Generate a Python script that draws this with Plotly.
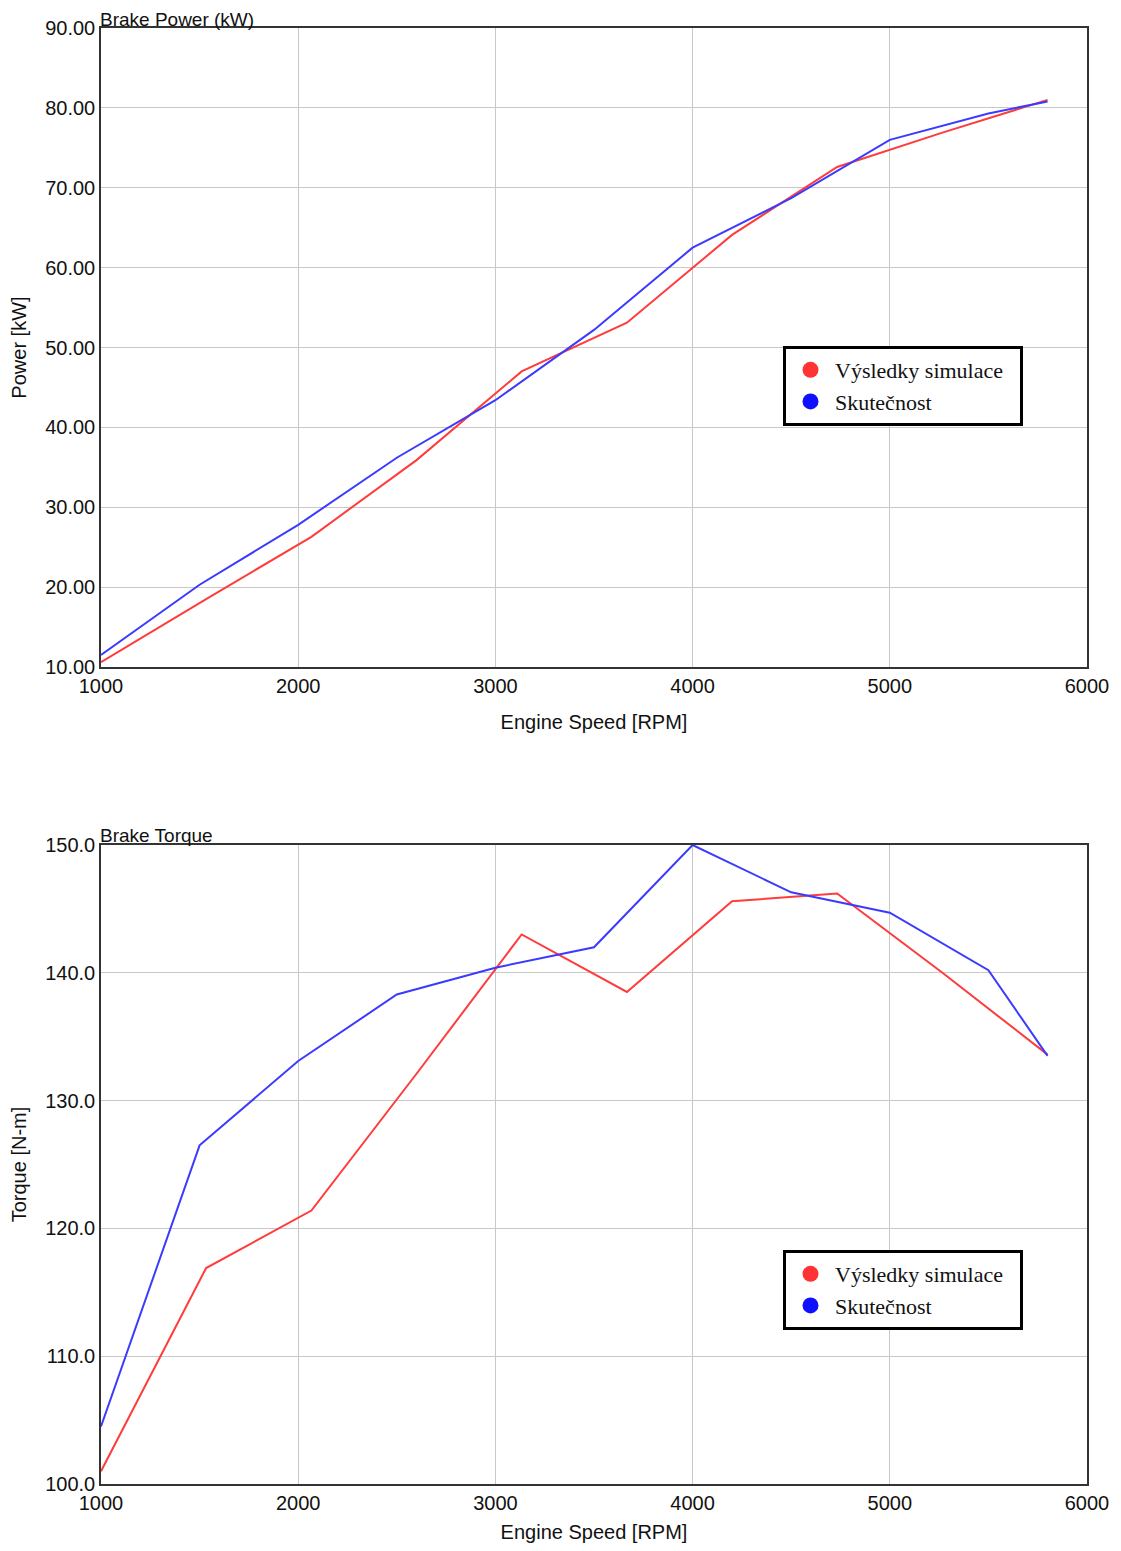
import plotly.graph_objects as go

# ---- data ----
rpm_sim = [1000, 1533, 2067, 2600, 3133, 3667, 4200, 4733, 5267, 5800]
power_sim = [10.6, 18.5, 26.3, 35.9, 47.0, 53.1, 64.1, 72.6, 76.9, 81.0]
torque_sim = [101.0, 116.9, 121.4, 132.1, 143.0, 138.5, 145.6, 146.2, 140.0, 133.6]

rpm_real = [1000, 1500, 2000, 2500, 3000, 3500, 4000, 4500, 5000, 5500, 5800]
power_real = [11.5, 20.3, 27.8, 36.2, 43.4, 52.2, 62.5, 68.7, 76.0, 79.3, 80.8]
torque_real = [104.5, 126.5, 133.1, 138.3, 140.4, 142.0, 150.0, 146.3, 144.7, 140.2, 133.5]

x_ticks = [1000, 2000, 3000, 4000, 5000, 6000]
series_names = ["Výsledky simulace", "Skutečnost"]
line_colors = ["#ff3b3b", "#3b3bff"]
marker_colors = ["#ff3333", "#1010ff"]

# page body has an 8px default margin: compensate
OFF = 8
W, H = 1105, 1535
fig = go.Figure()

def px_x(p):
    return (p - OFF) / W

def px_y(p):
    return 1 - (p - OFF) / H

xdom = [px_x(101), px_x(1087)]
dom_top = [px_y(667), px_y(28)]
dom_bot = [px_y(1484), px_y(845)]

# top: power
fig.add_trace(go.Scatter(x=rpm_sim, y=power_sim, mode="lines", line=dict(color=line_colors[0], width=2),
                         xaxis="x", yaxis="y", showlegend=False))
fig.add_trace(go.Scatter(x=rpm_real, y=power_real, mode="lines", line=dict(color=line_colors[1], width=2),
                         xaxis="x", yaxis="y", showlegend=False))
# bottom: torque
fig.add_trace(go.Scatter(x=rpm_sim, y=torque_sim, mode="lines", line=dict(color=line_colors[0], width=2),
                         xaxis="x2", yaxis="y2", showlegend=False))
fig.add_trace(go.Scatter(x=rpm_real, y=torque_real, mode="lines", line=dict(color=line_colors[1], width=2),
                         xaxis="x2", yaxis="y2", showlegend=False))

# legend entries (circle markers)
for lg, xa, ya in [("legend", "x", "y"), ("legend2", "x2", "y2")]:
    for name, c in zip(series_names, marker_colors):
        fig.add_trace(go.Scatter(x=[None], y=[None], mode="markers", name=name + "  ",
                                 marker=dict(color=c, size=16, symbol="circle"),
                                 xaxis=xa, yaxis=ya, legend=lg, showlegend=True))

tick_font = dict(family="Liberation Sans, Arial", size=20, color="#111")
title_font = dict(family="Liberation Sans, Arial", size=20, color="#111")
head_font = dict(family="Liberation Sans, Arial", size=19, color="#111")

xcommon = dict(range=[1000, 6000], tickvals=x_ticks, showgrid=True, gridcolor="#c8c8c8",
               showline=True, mirror=True, linecolor="#333", linewidth=1.5, zeroline=False,
               tickfont=tick_font, ticks="", domain=xdom, automargin=False,
               title=dict(text="Engine Speed [RPM]", font=title_font, standoff=19))

ycommon = dict(dtick=10, showgrid=True, gridcolor="#c8c8c8", showline=True, mirror=True,
               linecolor="#333", linewidth=1.5, zeroline=False, tickfont=tick_font, ticks="",
               automargin=False)

leg_common = dict(xanchor="left", yanchor="top", bordercolor="black", borderwidth=3, bgcolor="white",
                  font=dict(family="Liberation Serif, Times New Roman", size=22, color="#111"),
                  itemsizing="trace", itemwidth=39, tracegroupgap=0)

fig.update_layout(
    width=W, height=H,
    margin=dict(l=0, r=0, t=0, b=0),
    paper_bgcolor="white", plot_bgcolor="white",
    xaxis=dict(**xcommon, anchor="y"),
    yaxis=dict(**ycommon, range=[10, 90], tickformat=".2f", domain=dom_top, anchor="x",
               title=dict(text="Power [kW]", font=title_font, standoff=13)),
    xaxis2=dict(**xcommon, anchor="y2"),
    yaxis2=dict(**ycommon, range=[100, 150], tickformat=".1f", domain=dom_bot, anchor="x2",
                title=dict(text="Torque [N-m]", font=title_font, standoff=13)),
    legend=dict(**leg_common, x=px_x(783), y=px_y(346)),
    legend2=dict(**leg_common, x=px_x(783), y=px_y(1250)),
    annotations=[
        dict(text="Brake Power (kW)", x=px_x(99), y=px_y(19.5), xref="paper", yref="paper",
             xanchor="left", yanchor="middle", showarrow=False, font=head_font, borderpad=0),
        dict(text="Brake Torque", x=px_x(99), y=px_y(835), xref="paper", yref="paper",
             xanchor="left", yanchor="middle", showarrow=False, font=head_font, borderpad=0),
    ],
)

fig.write_html("out.html")
